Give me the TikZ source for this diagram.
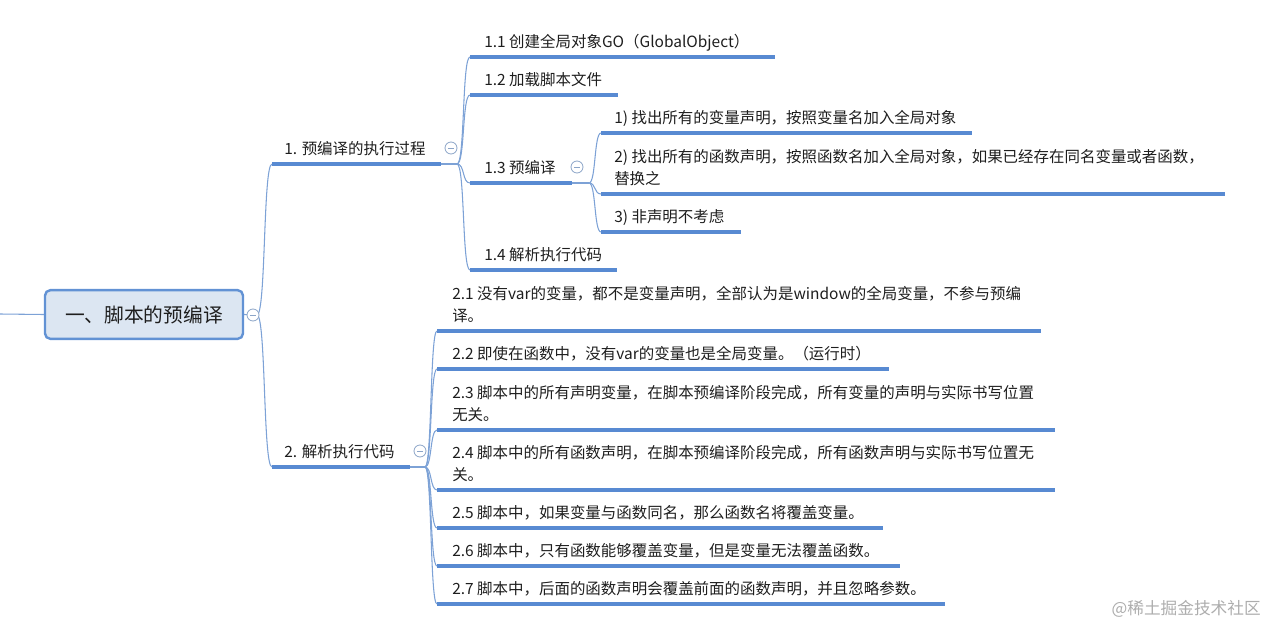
\documentclass[tikz,border=0pt]{standalone}
\usepackage{fontspec}
\setmainfont{Noto Sans CJK SC}
\definecolor{ublue}{RGB}{88,138,210}
\definecolor{cblue}{RGB}{125,162,214}
\definecolor{rootfill}{RGB}{220,230,242}
\definecolor{rootdraw}{RGB}{98,146,212}
\definecolor{foldc}{RGB}{140,165,200}
\definecolor{txt}{RGB}{30,30,30}
\begin{document}
\begin{tikzpicture}[x=0.75pt,y=-0.75pt,
  topic/.style={anchor=south west, inner sep=0pt, text depth=0pt, align=left,
    font=\fontsize{11.6}{16.5}\selectfont, text=txt},
  uline/.style={draw=ublue, line width=2.9pt},
  conn/.style={draw=cblue, line width=0.8pt},
  fold/.style={circle, draw=foldc, fill=white, line width=0.6pt, minimum size=9pt, inner sep=0pt,
    path picture={\draw[foldc, line width=0.6pt] ([xshift=-2.3pt]path picture bounding box.center) -- ([xshift=2.3pt]path picture bounding box.center);}},
  rootbox/.style={draw=rootdraw, fill=rootfill, line width=1.8pt, rounded corners=4pt,
    minimum width=148.5pt, minimum height=36.5pt, inner sep=0pt,
    font=\fontsize{14.8}{17}\selectfont, text=txt}
]
\useasboundingbox (0,0) rectangle (1279,639);

% ---------- coordinates ----------
\coordinate (lft) at (0,314);
\coordinate (p0) at (257,315);
\coordinate (a1) at (272,164);  \coordinate (b1) at (441,164);  \coordinate (p1) at (457,164);
\coordinate (a2) at (272,467);  \coordinate (b2) at (410,467);  \coordinate (p2) at (425,467);
\coordinate (a11) at (470,57);  \coordinate (b11) at (775,57);
\coordinate (a12) at (470,95);  \coordinate (b12) at (618,95);
\coordinate (a13) at (470,183); \coordinate (b13) at (572,183); \coordinate (p13) at (589,183);
\coordinate (a14) at (470,270); \coordinate (b14) at (617,270);
\coordinate (a131) at (601,133); \coordinate (b131) at (972,133);
\coordinate (a132) at (601,194); \coordinate (b132) at (1225,194);
\coordinate (a133) at (601,232); \coordinate (b133) at (741,232);
\coordinate (a21) at (437,331); \coordinate (b21) at (1041,331);
\coordinate (a22) at (437,369); \coordinate (b22) at (889,369);
\coordinate (a23) at (437,430); \coordinate (b23) at (1055,430);
\coordinate (a24) at (437,490); \coordinate (b24) at (1055,490);
\coordinate (a25) at (437,528); \coordinate (b25) at (883,528);
\coordinate (a26) at (437,566); \coordinate (b26) at (900,566);
\coordinate (a27) at (437,604); \coordinate (b27) at (945,604);

% ---------- root ----------
\node[rootbox] (root) at (144,314.5) {一、脚本的预编译};
\draw[conn] (lft) -- (root.west);
\draw[conn] (root.east) -- (p0);
\draw[conn] (p0) .. controls +(9,0) and +(-9,0) .. (a1);
\draw[conn] (p0) .. controls +(9,0) and +(-9,0) .. (a2);
\node[fold] (f0) at (253,315) {};

% ---------- branch 1 ----------
\node[topic] (n1) at (284,155) {1. 预编译的执行过程};
\draw[conn] (b1) -- (p1);
\foreach \k in {11,12,13,14} \draw[conn] (p1) .. controls +(8,0) and +(-8,0) .. (a\k);
\draw[uline] (a1) -- (b1);
\node[fold] (f1) at (451,148) {};
\foreach \k in {11,12,13,14} \draw[uline] (a\k) -- (b\k);
\node[topic] (n11) at (484,48) {1.1 创建全局对象GO（GlobalObject）};
\node[topic] (n12) at (484,86) {1.2 加载脚本文件};
\node[topic] (n13) at (484,174) {1.3 预编译};
\node[topic] (n14) at (484,261) {1.4 解析执行代码};

\draw[conn] (b13) -- (p13);
\foreach \k in {131,132,133} \draw[conn] (p13) .. controls +(7,0) and +(-7,0) .. (a\k);
\foreach \k in {131,132,133} \draw[uline] (a\k) -- (b\k);
\node[fold] (f13) at (577,167) {};
\node[topic] (n131) at (614,124) {1) 找出所有的变量声明，按照变量名加入全局对象};
\node[topic] (n132) at (614,185) {2) 找出所有的函数声明，按照函数名加入全局对象，如果已经存在同名变量或者函数，\\替换之};
\node[topic] (n133) at (614,223) {3) 非声明不考虑};

% ---------- branch 2 ----------
\node[topic] (n2) at (284,458) {2. 解析执行代码};
\draw[conn] (b2) -- (p2);
\foreach \k in {21,22,23,24,25,26,27} \draw[conn] (p2) .. controls +(7,0) and +(-7,0) .. (a\k);
\draw[uline] (a2) -- (b2);
\node[fold] (f2) at (420,451) {};
\foreach \k in {21,22,23,24,25,26,27} \draw[uline] (a\k) -- (b\k);
\node[topic] (n21) at (452,322) {2.1 没有var的变量，都不是变量声明，全部认为是window的全局变量，不参与预编\\译。};
\node[topic] (n22) at (452,360) {2.2 即使在函数中，没有var的变量也是全局变量。（运行时）};
\node[topic] (n23) at (452,421) {2.3 脚本中的所有声明变量，在脚本预编译阶段完成，所有变量的声明与实际书写位置\\无关。};
\node[topic] (n24) at (452,481) {2.4 脚本中的所有函数声明，在脚本预编译阶段完成，所有函数声明与实际书写位置无\\关。};
\node[topic] (n25) at (452,519) {2.5 脚本中，如果变量与函数同名，那么函数名将覆盖变量。};
\node[topic] (n26) at (452,557) {2.6 脚本中，只有函数能够覆盖变量，但是变量无法覆盖函数。};
\node[topic] (n27) at (452,595) {2.7 脚本中，后面的函数声明会覆盖前面的函数声明，并且忽略参数。};

% ---------- watermark ----------
\node[anchor=east, inner sep=0pt, font=\fontsize{12.5}{14}\selectfont, text=black!32] (wm) at (1261,609) {@稀土掘金技术社区};
\end{tikzpicture}
\end{document}
